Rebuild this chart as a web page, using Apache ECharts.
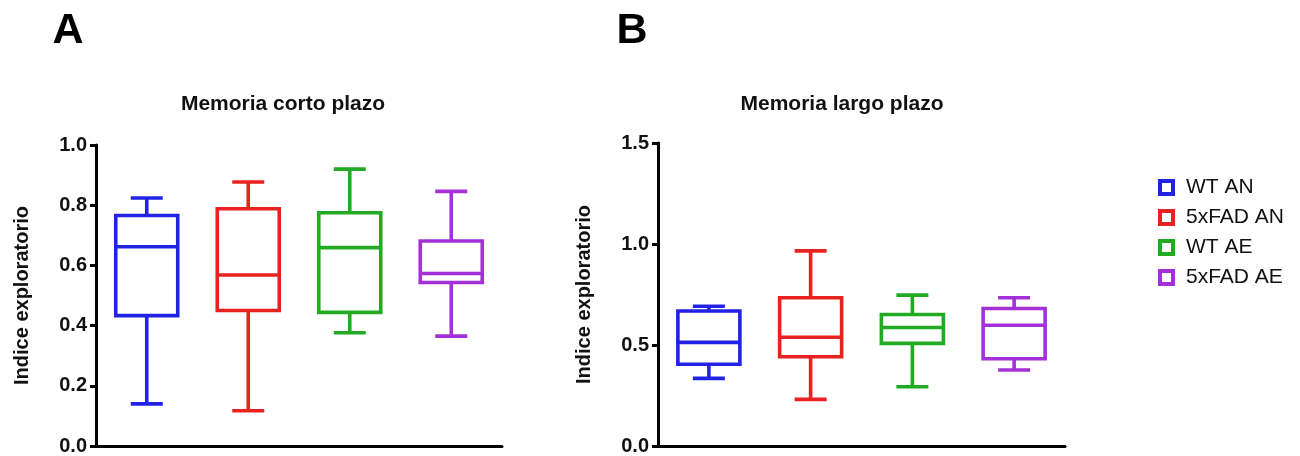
<!DOCTYPE html>
<html>
<head>
<meta charset="utf-8">
<script src="https://cdn.jsdelivr.net/npm/echarts@6/dist/echarts.min.js"></script>
<style>
html,body{margin:0;padding:0;background:#fff;}
#chart{width:1300px;height:456px;}
</style>
</head>
<body>
<div id="chart"></div>
<script>
// ---- data ----
var groups = ['WT AN', '5xFAD AN', 'WT AE', '5xFAD AE'];
var colors = ['#2222e6', '#e8221e', '#22aa22', '#a530d8'];
// [min, Q1, median, Q3, max]
var cortoPlazo = [
  [0.140, 0.433, 0.662, 0.766, 0.824],
  [0.117, 0.450, 0.568, 0.788, 0.877],
  [0.376, 0.444, 0.659, 0.775, 0.920],
  [0.365, 0.543, 0.573, 0.681, 0.846]
];
var largoPlazo = [
  [0.335, 0.405, 0.513, 0.668, 0.692],
  [0.231, 0.442, 0.538, 0.734, 0.966],
  [0.293, 0.508, 0.587, 0.651, 0.747],
  [0.376, 0.432, 0.598, 0.681, 0.734]
];
var yTicksA = [0, 0.2, 0.4, 0.6, 0.8, 1.0];
var yTicksB = [0, 0.5, 1.0, 1.5];
var panelTitles = ['Memoria corto plazo', 'Memoria largo plazo'];
var panelLetters = ['A', 'B'];
var yName = 'Indice exploratorio';

var FONT = '"Liberation Sans", Arial, Helvetica, sans-serif';

function makeRender(color) {
  return function (params, api) {
    var cat = api.value(0);
    var lo = api.coord([cat, api.value(1)]);
    var q1 = api.coord([cat, api.value(2)]);
    var md = api.coord([cat, api.value(3)]);
    var q3 = api.coord([cat, api.value(4)]);
    var hi = api.coord([cat, api.value(5)]);
    var cx = lo[0];
    var bw = 62, cw = 32;
    var st = { stroke: color, lineWidth: 3.6, fill: null };
    function line(x1, y1, x2, y2) {
      return { type: 'line', shape: { x1: x1, y1: y1, x2: x2, y2: y2 }, style: st };
    }
    return {
      type: 'group',
      children: [
        { type: 'rect', shape: { x: cx - bw / 2, y: q3[1], width: bw, height: q1[1] - q3[1] },
          style: { stroke: color, lineWidth: 3.6, fill: 'rgba(0,0,0,0)' } },
        line(cx - bw / 2, md[1], cx + bw / 2, md[1]),
        line(cx, q3[1], cx, hi[1]),
        line(cx, q1[1], cx, lo[1]),
        line(cx - cw / 2, hi[1], cx + cw / 2, hi[1]),
        line(cx - cw / 2, lo[1], cx + cw / 2, lo[1])
      ]
    };
  };
}

var series = [];
[cortoPlazo, largoPlazo].forEach(function (panel, p) {
  panel.forEach(function (v, i) {
    series.push({
      type: 'custom',
      name: groups[i],
      xAxisIndex: p,
      yAxisIndex: p,
      renderItem: makeRender(colors[i]),
      encode: { x: 0, y: [1, 2, 3, 4, 5] },
      itemStyle: { color: colors[i] },
      data: [[i, v[0], v[1], v[2], v[3], v[4]]],
      silent: true
    });
  });
});

function yAxis(gridIdx, max, interval) {
  return {
    type: 'value',
    gridIndex: gridIdx,
    min: 0, max: max, interval: interval,
    name: yName,
    nameLocation: 'middle',
    nameRotate: 90,
    nameGap: 64,
    nameTextStyle: { fontFamily: FONT, fontWeight: 'bold', fontSize: 20, color: '#111' },
    axisLine: { show: true, lineStyle: { color: '#000', width: 3 } },
    axisTick: { show: true, length: 6, lineStyle: { color: '#000', width: 3 } },
    splitLine: { show: false },
    axisLabel: {
      fontFamily: FONT, fontWeight: 'bold', fontSize: 20, color: '#111', margin: 9,
      formatter: function (v) { return v.toFixed(1); }
    }
  };
}

function xAxis(gridIdx) {
  return {
    type: 'category',
    gridIndex: gridIdx,
    data: groups,
    boundaryGap: true,
    axisLine: { show: true, onZero: false, lineStyle: { color: '#000', width: 3 } },
    axisTick: { show: false },
    axisLabel: { show: false },
    splitLine: { show: false }
  };
}

var option = {
  animation: false,
  backgroundColor: '#fff',
  grid: [
    { left: 96, top: 145, width: 406, height: 303 },
    { left: 658, top: 143, width: 407, height: 303 }
  ],
  xAxis: [xAxis(0), xAxis(1)],
  yAxis: [yAxis(0, 1.0, 0.2), yAxis(1, 1.5, 0.5)],
  legend: {
    orient: 'vertical',
    left: 1153,
    top: 172,
    itemWidth: 13,
    itemHeight: 13,
    itemGap: 9,
    selectedMode: false,
    textStyle: { fontFamily: FONT, fontSize: 21, color: '#111', padding: [0, 0, 0, 8] },
    data: groups.map(function (g, i) {
      return { name: g, icon: 'rect',
        itemStyle: { color: '#fff', borderColor: colors[i], borderWidth: 4 } };
    })
  },
  graphic: [
    { type: 'text', x: 68, y: 31, style: { text: panelLetters[0], font: 'bold 43px ' + FONT, fill: '#000', textAlign: 'center', textVerticalAlign: 'middle' } },
    { type: 'text', x: 632, y: 31, style: { text: panelLetters[1], font: 'bold 43px ' + FONT, fill: '#000', textAlign: 'center', textVerticalAlign: 'middle' } },
    { type: 'text', x: 283, y: 104, style: { text: panelTitles[0], font: 'bold 21px ' + FONT, fill: '#111', textAlign: 'center', textVerticalAlign: 'middle' } },
    { type: 'text', x: 842, y: 104, style: { text: panelTitles[1], font: 'bold 21px ' + FONT, fill: '#111', textAlign: 'center', textVerticalAlign: 'middle' } }
  ],
  series: series
};

var chart = echarts.init(document.getElementById('chart'), null, { renderer: 'canvas' });
chart.setOption(option);
</script>
</body>
</html>
